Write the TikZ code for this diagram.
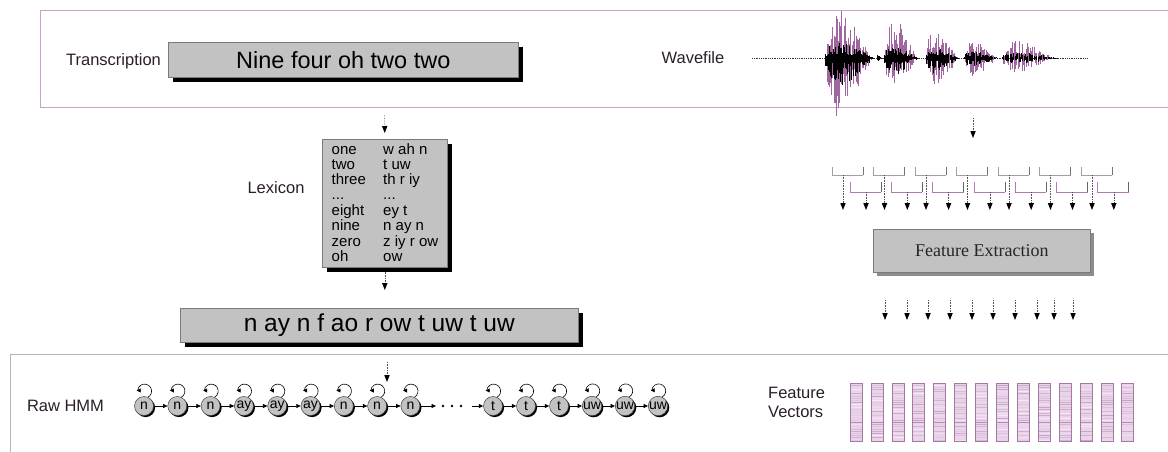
\documentclass[tikz,border=0pt]{standalone}
\usepackage{fontspec}
\setmainfont{Liberation Sans}
\newfontfamily\serifface{Liberation Serif}
\usetikzlibrary{arrows.meta,shadows,calc}

\definecolor{framepurple}{HTML}{C8A2C8}
\definecolor{framegray}{HTML}{B8B2B8}
\definecolor{boxfill}{HTML}{C2C2C2}
\definecolor{boxedge}{HTML}{7A7A7A}
\definecolor{wavepurple}{HTML}{A066A0}
\definecolor{barfill}{HTML}{EBD3EB}
\definecolor{baredge}{HTML}{A47AA4}
\definecolor{stripe}{HTML}{9C5A9C}
\definecolor{brackgray}{HTML}{A0A0A0}
\definecolor{brackpurple}{HTML}{B478B4}
\definecolor{labelc}{HTML}{2A1E2A}
\definecolor{stemc}{HTML}{505050}

% one burst of the speech waveform: start, end, height up, depth down, lines, style
\newcommand\waveburst[6]{%
  \foreach \k in {1,...,#5}{%
    \pgfmathsetmacro\wt{\k/(#5+1)}%
    \pgfmathsetmacro\wx{#1+(#2-#1)*\wt}%
    \pgfmathsetmacro\wenv{sin(180*pow(\wt,0.55))}%
    \pgfmathsetmacro\wup{393+#3*\wenv*(0.2+0.8*rnd)}%
    \pgfmathsetmacro\wdn{393-#4*\wenv*(0.2+0.8*rnd)}%
    \draw[#6] (\wx,\wdn) -- (\wx,\wup);
  }}

\begin{document}
\begin{tikzpicture}[x=1pt,y=1pt,
  lbl/.style={font=\fontsize{16.5}{19}\selectfont, text=labelc, inner sep=0},
  graybox/.style={draw=boxedge, fill=boxfill, line width=0.6pt, inner sep=0,
    drop shadow={shadow xshift=5pt, shadow yshift=-5pt, fill=black, opacity=1}},
  softbox/.style={draw=boxedge, fill=boxfill, line width=0.6pt, inner sep=0,
    drop shadow={shadow xshift=4pt, shadow yshift=-4pt, fill=black!45, opacity=1}},
  flow/.style={densely dotted, draw=stemc, line width=0.6pt,
    -{Triangle[length=7pt,width=5.5pt,color=black,line width=0pt]}},
  hmmstate/.style={circle, draw=black!75, fill=boxfill, line width=0.5pt,
    minimum size=19pt, inner sep=0, font=\fontsize{14}{14}\selectfont,
    drop shadow={shadow xshift=1.6pt, shadow yshift=-1.6pt, fill=black, opacity=1}},
  trans/.style={line width=0.6pt, -{Triangle[length=4.5pt,width=4pt]}},
  selfloop/.style={line width=0.6pt, -{Triangle[length=4pt,width=4pt]}},
]
\useasboundingbox (0,0) rectangle (1168,451);
\clip (0,0) rectangle (1168,451);
\pgfmathsetseed{11}

% ---------- frames ----------
\draw[framepurple, line width=0.8pt] (1175,441) -- (40,441) -- (40,344) -- (1175,344);
\draw[framegray, line width=1pt] (1175,97) -- (10,97) -- (10,-5);

% ---------- transcription ----------
\node[lbl] (translbl) at (113.5,390) {Transcription};
\node[graybox, minimum width=350pt, minimum height=35pt, anchor=north west,
      font=\fontsize{23.5}{24}\selectfont] (trans) at (168,409) {Nine four oh two two};

% ---------- waveform ----------
\node[lbl] (wavelbl) at (693,393) {Wavefile};
\draw[black!80, densely dotted, line width=0.8pt] (752,393) -- (1087,393);
\waveburst{826}{872}{50}{64}{40}{wavepurple, line width=0.6pt}
\waveburst{884}{917}{40}{30}{28}{wavepurple, line width=0.6pt}
\waveburst{926}{958}{30}{30}{26}{wavepurple, line width=0.6pt}
\waveburst{964}{997}{17}{19}{26}{wavepurple, line width=0.6pt}
\waveburst{1002}{1054}{18}{16}{38}{wavepurple, line width=0.6pt}
\waveburst{824}{874}{16}{28}{50}{black, line width=0.45pt}
\waveburst{883}{918}{12}{17}{34}{black, line width=0.45pt}
\waveburst{925}{959}{10}{15}{32}{black, line width=0.45pt}
\waveburst{963}{998}{7}{8}{32}{black, line width=0.45pt}
\waveburst{1001}{1058}{6}{6}{44}{black, line width=0.45pt}
\waveburst{876}{882}{3}{3}{6}{black, line width=0.45pt}

% ---------- lexicon ----------
\coordinate (topS) at (384.5,344);
\node[lbl] (lexlbl) at (276,263) {Lexicon};
\node[graybox, minimum width=125pt, minimum height=128pt, anchor=north west] (lex) at (322,312) {};
\node[anchor=north west, inner sep=0, font=\fontsize{15}{15}\selectfont] (lexlist) at (331.5,307.5)
  {\begin{tabular}{@{}p{51.5pt}@{}l@{}}
   one & w ah n\\ two & t uw\\ three & th r iy\\ ... & ...\\
   eight & ey t\\ nine & n ay n\\ zero & z iy r ow\\ oh & ow
   \end{tabular}};
\draw[flow, shorten <=8pt, shorten >=6pt] (topS) -- (lex.north);

% ---------- phone string ----------
\node[graybox, minimum width=398pt, minimum height=34pt, anchor=north west,
      font=\fontsize{24.5}{25}\selectfont] (phones) at (180,143) {n ay n f ao r ow t uw t uw};
\coordinate (phonesIn) at (lex.south |- phones.north);
\draw[flow, shorten <=4pt, shorten >=18pt] (lex.south) -- (phonesIn);

% ---------- raw HMM ----------
\node[lbl] (hmmlbl) at (65.5,45) {Raw HMM};
\foreach \lab [count=\i from 0] in {n,n,n,ay,ay,ay,n,n,n}
  \node[hmmstate] (h\i) at ({144+33.3*\i},45) {\lab};
\foreach \lab [count=\j from 0] in {t,t,t,uw,uw,uw}
  \node[hmmstate] (g\j) at ({493+33*\j},45) {\lab};
\foreach \i [evaluate=\i as \j using int(\i+1)] in {0,...,7}
  \draw[trans] (h\i) -- (h\j);
\foreach \i [evaluate=\i as \j using int(\i+1)] in {0,...,4}
  \draw[trans] (g\i) -- (g\j);
\foreach \s in {h0,h1,h2,h3,h4,h5,h6,h7,h8,g0,g1,g2,g3,g4,g5}
  \draw[selfloop] (\s.65) arc[start angle=-60, end angle=175, radius=7] -- ++(-1,0);
\foreach \d/\x in {1/443,2/452,3/461}
  \fill (\x,45) circle (1.4) coordinate (d\d);
\coordinate (gapIn) at (436,45);
\coordinate (gapOut) at (472,45);
\draw[trans] (h8) -- (gapIn);
\draw[trans] (gapOut) -- (g0);
\coordinate (hmmTop) at (387,97);
\coordinate (hmmIn) at (387,69);
\draw[flow, shorten <=8pt] (hmmTop) -- (hmmIn);

% ---------- framing windows ----------
\coordinate (waveS) at (973,344);
\coordinate (winIn) at (973,313);
\draw[flow, shorten <=11pt] (waveS) -- (winIn);
\foreach \i in {0,...,6}{
  \pgfmathsetmacro\ua{832+41.5*\i}
  \pgfmathsetmacro\la{850+41.3*\i}
  \draw[brackgray, line width=0.7pt] (\ua,284) -- (\ua,276) -- (\ua+31,276);
  \draw[black!55, line width=0.7pt] (\ua+31,276) -- (\ua+31,284);
  \draw[brackpurple, line width=0.7pt] (\la,269) -- (\la,259) -- (\la+31,259);
  \draw[black!60, line width=0.7pt] (\la+31,259) -- (\la+31,269);
  \coordinate (wu\i) at (\ua+11,276);
  \coordinate (wuT\i) at (\ua+11,241);
  \coordinate (wl\i) at (\la+16,259);
  \coordinate (wlT\i) at (\la+16,241);
  \draw[flow] (wu\i) -- (wuT\i);
  \draw[flow] (wl\i) -- (wlT\i);
}

% ---------- feature extraction ----------
\node[softbox, minimum width=217pt, minimum height=43pt, anchor=north west,
      font=\serifface\fontsize{18}{18}\selectfont, text=black!85] (fe) at (873,222) {Feature Extraction};
\foreach \x [count=\n] in {885,907,928,950,972,993,1015,1037,1054,1073}{
  \coordinate (fo\n) at (\x,151);
  \coordinate (foT\n) at (\x,131);
  \draw[flow] (fo\n) -- (foT\n);
}

% ---------- feature vectors ----------
\node[lbl, anchor=west, align=left] (fvlbl) at (768,48.5) {Feature\\Vectors};
\foreach \b in {0,...,13}{
  \pgfmathsetmacro\bx{850+20.9*\b}
  \fill[barfill] (\bx,10) rectangle ++(12,58);
  \foreach \s in {0,...,25}{
    \pgfmathsetmacro\sy{11.2+\s*2.2}
    \pgfmathsetmacro\si{int(12+45*rnd)}
    \draw[stripe!\si, line width=0.6pt] (\bx,\sy) -- ++(12,0);
  }
  \draw[stripe!70, line width=0.6pt] (\bx,29) -- ++(12,0);
  \draw[baredge, line width=0.6pt] (\bx,10) rectangle ++(12,58);
}
\end{tikzpicture}
\end{document}
